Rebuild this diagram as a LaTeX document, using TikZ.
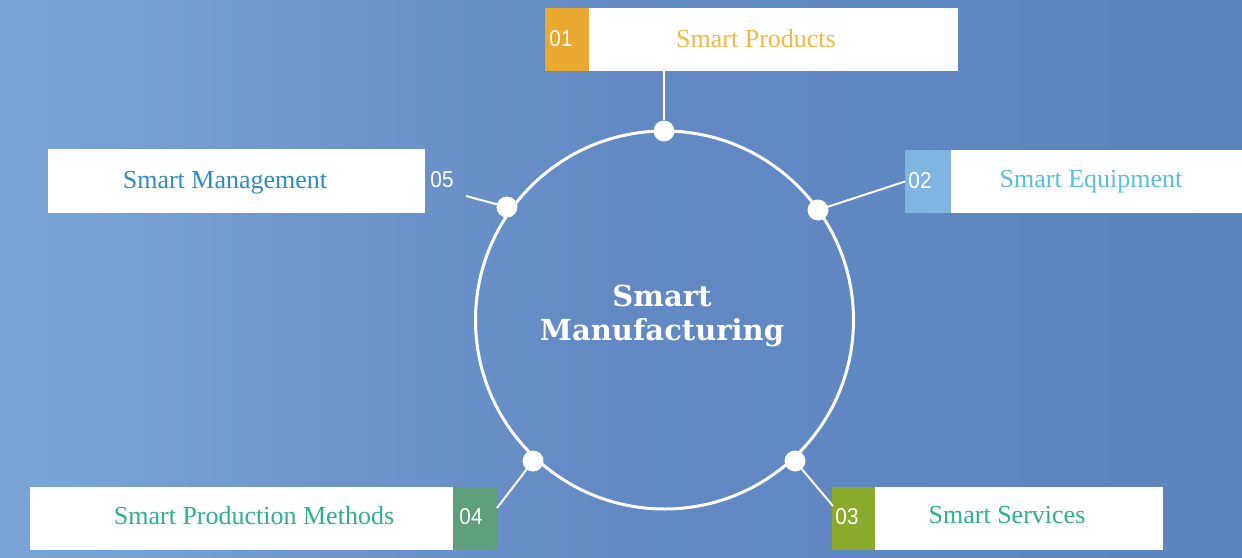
\documentclass[tikz,border=0pt]{standalone}
\usepackage{fontspec}
\setmainfont{Liberation Serif}
\newfontfamily\ctrfont{DejaVu Serif}
\newfontfamily\numfont{Liberation Sans}
\definecolor{bgL}{HTML}{7CA5D7}
\definecolor{bgM}{HTML}{6289C3}
\definecolor{bgR}{HTML}{5B84BF}
\definecolor{cOne}{HTML}{E9A930}
\definecolor{cTwo}{HTML}{80B4E2}
\definecolor{cThree}{HTML}{8BAA2C}
\definecolor{cFour}{HTML}{5E9E7A}
\definecolor{tOne}{HTML}{F3B840}
\definecolor{tTwo}{HTML}{5BBEE0}
\definecolor{tFive}{HTML}{2D8CC8}
\definecolor{tGreen}{HTML}{2FAE92}
\begin{document}
\begin{tikzpicture}[x=1pt,y=-1pt,
  whitebox/.style={fill=white,draw=none,inner sep=0pt,minimum height=63pt,anchor=west},
  numbox/.style={draw=none,inner sep=0pt,minimum height=63pt,anchor=west},
  numtext/.style={text=white,font=\numfont\fontsize{23}{24}\selectfont,inner sep=0pt,xscale=0.9},
  label/.style={font=\fontsize{26}{28}\selectfont,inner sep=0pt},
  dotnode/.style={circle,fill=white,inner sep=0pt,minimum size=21pt},
  link/.style={draw=white,line width=2pt}]
\useasboundingbox (0,0) rectangle (1242,557);
\shade[left color=bgL,right color=bgR,middle color=bgM] (0,0) rectangle (1242,557);
% central circle
\node[circle,draw=white,line width=3pt,minimum size=378pt,inner sep=0pt] (ring) at (664.5,320) {};
\node[text=white,font=\ctrfont\bfseries\fontsize{29}{34}\selectfont,align=center,inner sep=0pt] (center) at (662,316) {Smart\\Manufacturing};
% dots on the ring
\node[dotnode] (d1) at (664,131) {};
\node[dotnode] (d2) at (818,210) {};
\node[dotnode] (d5) at (507,207) {};
\node[dotnode] (d3) at (795,461) {};
\node[dotnode] (d4) at (533,461) {};
% box 01
\node[numbox,fill=cOne,minimum width=44pt] (n1) at (545,39.5) {};
\node[whitebox,minimum width=369pt] (b1) at (589,39.5) {};
\node[numtext] (t01) at (561,39) {01};
\node[label,text=tOne] (l1) at (756,39) {Smart Products};
% box 02
\node[numbox,fill=cTwo,minimum width=46pt] (n2) at (905,181.5) {};
\node[whitebox,minimum width=291pt] (b2) at (951,181.5) {};
\node[numtext] (t02) at (920,181) {02};
\node[label,text=tTwo] (l2) at (1091,182) {Smart Equipment};
% box 05
\node[whitebox,minimum width=377pt,minimum height=64pt] (b5) at (48,181) {};
\node[numtext] (t05) at (442,180) {05};
\node[label,text=tFive] (l5) at (225,183) {Smart Management};
% box 04
\node[whitebox,minimum width=423pt] (b4) at (30,518.5) {};
\node[numbox,fill=cFour,minimum width=44pt] (n4) at (453,518.5) {};
\node[numtext] (t04) at (471,517) {04};
\node[label,text=tGreen] (l4) at (254,516) {Smart Production Methods};
% box 03
\node[numbox,fill=cThree,minimum width=43pt] (n3) at (832,518.5) {};
\node[whitebox,minimum width=288pt] (b3) at (875,518.5) {};
\node[numtext] (t03) at (847,517) {03};
\node[label,text=tGreen] (l3) at (1007,515) {Smart Services};
% connector ends
\coordinate (e5) at (466,196);
\coordinate (e3) at (833,506);
\coordinate (e4) at (497,508);
% connectors
\draw[link] (d1) -- (d1 |- b1.south);
\draw[link] (d2) -- (n2.west);
\draw[link] (d5) -- (e5);
\draw[link] (d3) -- (e3);
\draw[link] (d4) -- (e4);
\end{tikzpicture}
\end{document}
